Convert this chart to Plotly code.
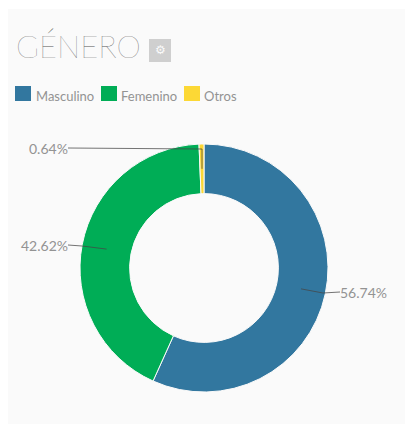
import math
import plotly.graph_objects as go

W, H = 405, 424
categories = ["Masculino", "Femenino", "Otros"]
values = [56.74, 42.62, 0.64]
colors = ["#32779f", "#00ad56", "#fcd835"]
labels = ["56.74%", "42.62%", "0.64%"]

cx, cy, R = 204, 268, 124
GREY = "#939393"
LINE = "rgba(70,70,70,0.75)"

def px(x): return x / W
def py(y): return 1 - y / H

fig = go.Figure(go.Pie(
    labels=categories, values=values, hole=0.6, sort=False, direction="clockwise",
    rotation=0, textinfo="none", hoverinfo="label+percent",
    marker=dict(colors=colors, line=dict(color="#fafafa", width=1)),
    domain=dict(x=[px(cx - R), px(cx + R)], y=[py(cy + R), py(cy - R)]),
    showlegend=False,
))

shapes = [dict(type="rect", xref="paper", yref="paper", layer="below",
               x0=px(8), x1=1, y0=0, y1=py(9), fillcolor="#fafafa", line_width=0)]
annotations = []

def line(x0, y0, x1, y1):
    shapes.append(dict(type="line", xref="paper", yref="paper", x0=px(x0), y0=py(y0),
                       x1=px(x1), y1=py(y1), line=dict(color=LINE, width=1)))

def text(x, y, s, size, anchor="left", color=GREY, family="Lato", weight=400):
    annotations.append(dict(xref="paper", yref="paper", x=px(x), y=py(y), text=s, showarrow=False,
                            xanchor=anchor, yanchor="middle", borderpad=0, borderwidth=0,
                            font=dict(size=size, color=color, family=family, weight=weight)))

# leader lines start from the middle of each slice
total = sum(values)
start = 0
mids = []
for v in values:
    mids.append(math.radians((start + v / 2) / total * 360))
    start += v
rm = 0.8 * R
anchors = [(cx + rm * math.sin(a), cy - rm * math.cos(a)) for a in mids]

ax, ay = anchors[0]
line(ax, ay, 323, 293); line(323, 293, 340, 292)
text(340, 292, labels[0], 14)
ax, ay = anchors[1]
line(ax, ay, 82, 246); line(82, 246, 68, 245)
text(68, 245, labels[1], 14, "right")
ax, ay = anchors[2]
line(ax, ay, 202, 149); line(202, 149, 68, 148)
text(68, 148, labels[2], 14, "right")

# header
text(16, 46, "GÉNERO", 31, family="Lato", weight=100, color="#555555")
shapes.append(dict(type="rect", xref="paper", yref="paper", x0=px(149), x1=px(171), y0=py(62), y1=py(39),
                   fillcolor="#cfcfcf", line_width=0))
text(160, 50.5, "⚙", 12, "center", color="#fafafa", family="DejaVu Sans")

# legend
for c, n, sx, tx in zip(colors, categories, [15, 101, 184], [36, 121, 204]):
    shapes.append(dict(type="rect", xref="paper", yref="paper", x0=px(sx), x1=px(sx + 16),
                       y0=py(101), y1=py(86), fillcolor=c, line_width=0))
    text(tx, 96, n, 13)

fig.update_layout(width=W, height=H, margin=dict(l=0, r=0, t=0, b=0), paper_bgcolor="#ffffff",
                  shapes=shapes, annotations=annotations, font=dict(family="Lato"))
fig.write_html("out.html", config=dict(displayModeBar=False),
               post_script="document.body.style.margin='0';document.documentElement.style.overflow='hidden';")
